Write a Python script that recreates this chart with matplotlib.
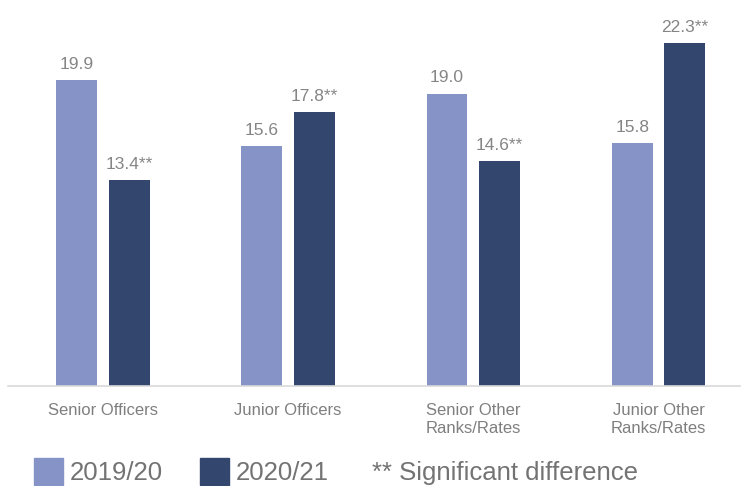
import numpy as np
import matplotlib.pyplot as plt
from matplotlib.patches import Rectangle

plt.rcParams['font.family'] = ['Liberation Sans', 'DejaVu Sans']

categories = ['Senior Officers', 'Junior Officers', 'Senior Other\nRanks/Rates', 'Junior Other\nRanks/Rates']
years = ['2019/20', '2020/21']
vals_1920 = [19.9, 15.6, 19.0, 15.8]
vals_2021 = [13.4, 17.8, 14.6, 22.3]
sig_2021 = [True, True, True, True]

light = '#8593C6'
dark = '#33466D'

fig = plt.figure(figsize=(7.44, 4.86), dpi=100)
ax = fig.add_axes([8 / 744, 100 / 486, 732 / 744, 386 / 486])

x = np.arange(len(categories))
w = 0.221
off = 0.142
b1 = ax.bar(x - off, vals_1920, w, color=light)
b2 = ax.bar(x + off, vals_2021, w, color=dark)

for bar, v in zip(b1, vals_1920):
    ax.annotate('{:.1f}'.format(v), (bar.get_x() + bar.get_width() / 2, v),
                xytext=(0, 6), textcoords='offset points', ha='center', va='bottom',
                fontsize=12.5, color='#858585')
for bar, v, s in zip(b2, vals_2021, sig_2021):
    ax.annotate('{:.1f}'.format(v) + ('**' if s else ''), (bar.get_x() + bar.get_width() / 2, v),
                xytext=(0, 6), textcoords='offset points', ha='center', va='bottom',
                fontsize=12.5, color='#858585')

ax.set_xlim(-0.512, 3.44)
ax.set_ylim(0, 25.1)
for s in ['top', 'right', 'left']:
    ax.spines[s].set_visible(False)
ax.spines['bottom'].set_color('#D9D9D9')
ax.spines['bottom'].set_linewidth(1.2)
ax.set_yticks([])
ax.set_xticks(x)
ax.set_xticklabels(categories, fontsize=12, color='#7F7F7F', linespacing=1.25)
ax.tick_params(axis='x', length=0, pad=12)

# legend along the bottom edge
fig.add_artist(Rectangle((34 / 744, 1 / 486), 29 / 744, 27 / 486, transform=fig.transFigure, color=light))
fig.text(70 / 744, 6 / 486, years[0], fontsize=18.5, color='#737373', ha='left', va='baseline')
fig.add_artist(Rectangle((200 / 744, 1 / 486), 29 / 744, 27 / 486, transform=fig.transFigure, color=dark))
fig.text(236 / 744, 6 / 486, years[1], fontsize=18.5, color='#737373', ha='left', va='baseline')
fig.text(372 / 744, 6 / 486, '** Significant difference', fontsize=18.5, color='#737373', ha='left', va='baseline')

fig.savefig('out.png', dpi=100)
